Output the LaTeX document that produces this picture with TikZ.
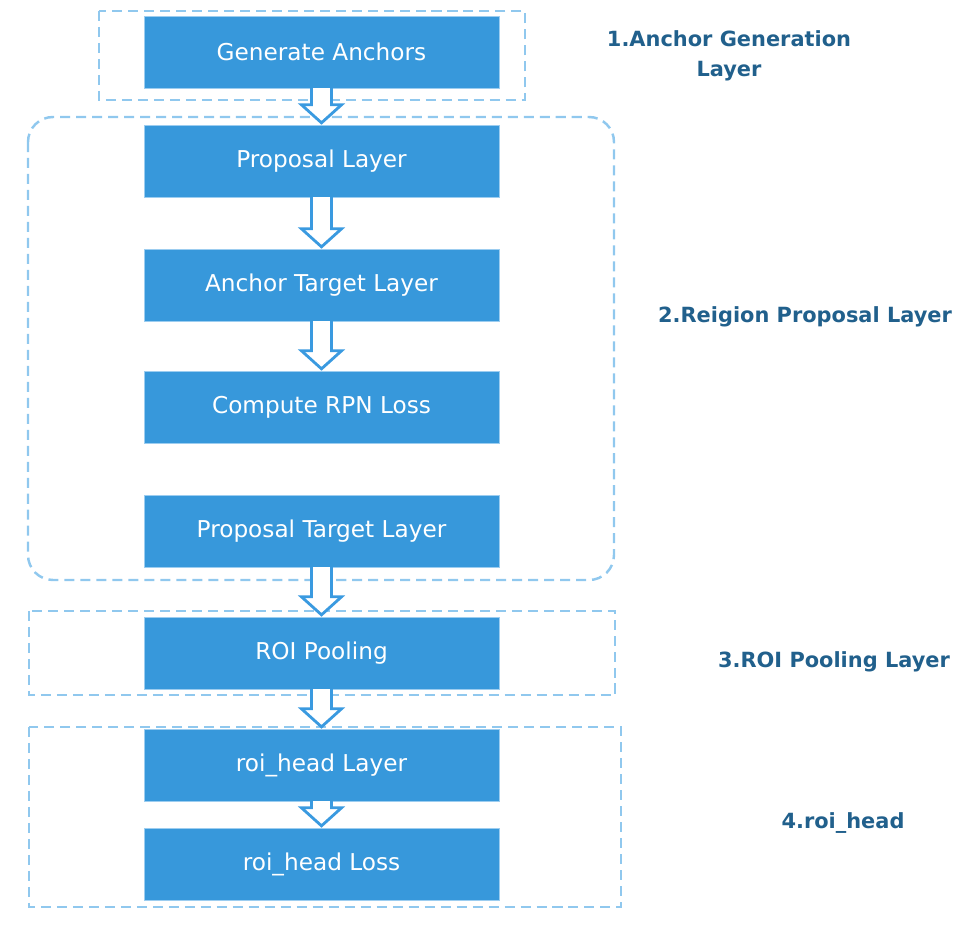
\documentclass[tikz,border=0pt]{standalone}
\usepackage{fontspec}
\setmainfont{DejaVu Sans}
\usetikzlibrary{calc}
\definecolor{boxblue}{HTML}{3798DB}
\definecolor{boxedge}{HTML}{9CCDF0}
\definecolor{framecol}{HTML}{90C8EE}
\definecolor{arrowcol}{HTML}{3A9AE0}
\definecolor{labelblue}{HTML}{21608C}
\begin{document}
\begin{tikzpicture}[x=0.02cm,y=-0.02cm,
  layerbox/.style={rectangle,fill=boxblue,draw=boxedge,very thin,minimum width=7.1cm,minimum height=1.44cm,text=white,font=\fontsize{13.2}{16}\selectfont},
  groupframe/.style={draw=framecol,line width=1.4pt,dash pattern=on 5.7pt off 3.4pt},
  blockarrow/.style={draw=arrowcol,line width=1.6pt,fill=white,line join=miter},
  layerlabel/.style={text=labelblue,align=center,font=\bfseries\fontsize{11.9}{17}\selectfont}]
\useasboundingbox (0,0) rectangle (980,936);

\draw[groupframe] (99,11) rectangle (525,100);
\draw[groupframe,rounded corners=0.5cm] (28,117) rectangle (614,580);
\draw[groupframe] (29,611) rectangle (615,695);
\draw[groupframe] (29,727) rectangle (621,907);

\node[layerbox] (anchors) at (321.5,52) {Generate Anchors};
\node[layerbox] (proposal) at (321.5,161) {Proposal Layer};
\node[layerbox] (target) at (321.5,285) {Anchor Target Layer};
\node[layerbox] (rpnloss) at (321.5,407) {Compute RPN Loss};
\node[layerbox] (proptarget) at (321.5,531) {Proposal Target Layer};
\node[layerbox] (pooling) at (321.5,653) {ROI Pooling};
\node[layerbox] (head) at (321.5,765) {roi\_head Layer};
\node[layerbox] (headloss) at (321.5,864) {roi\_head Loss};

\foreach \a/\b in {anchors/proposal,proposal/target,target/rpnloss,proptarget/pooling,pooling/head,head/headloss}
  \draw[blockarrow] ($(\a.south)+(-10,0)$) -- ($(\b.north)+(-10,-20)$) -- ++(-10,0) -- ($(\b.north)+(0,-2)$)
    -- ($(\b.north)+(20,-20)$) -- ++(-10,0) -- ($(\a.south)+(10,0)$);

\node[layerlabel] (lab1) at (729,56) {1.Anchor Generation\\Layer};
\node[layerlabel] (lab2) at (805,317) {2.Reigion Proposal Layer};
\node[layerlabel] (lab3) at (834,662) {3.ROI Pooling Layer};
\node[layerlabel] (lab4) at (843,823) {4.roi\_head};

\end{tikzpicture}
\end{document}
